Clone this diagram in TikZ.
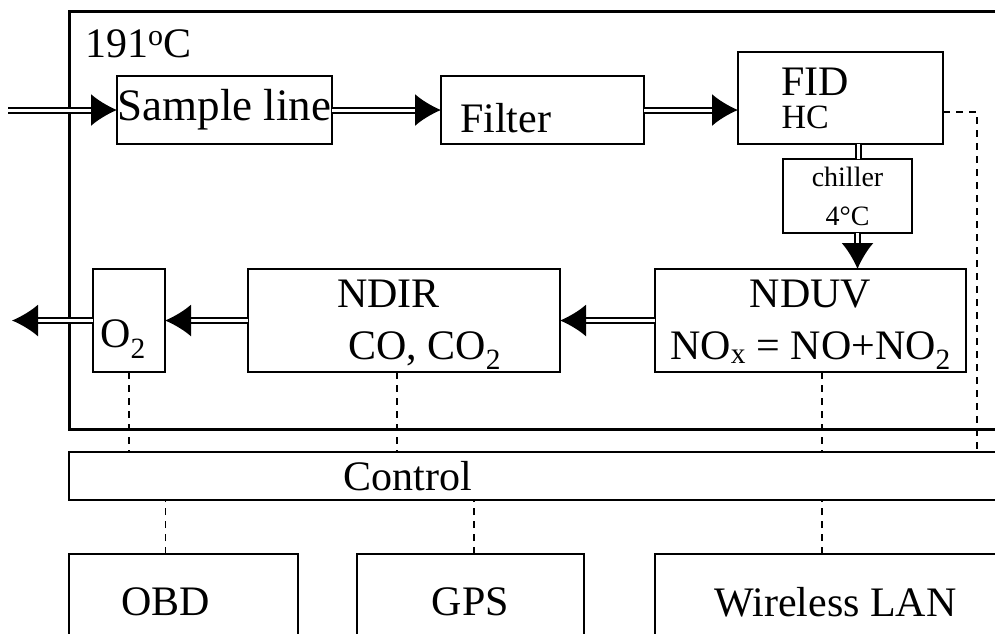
\documentclass[tikz,border=0pt]{standalone}
\usepackage{fontspec}
\setmainfont{Liberation Serif}
\usetikzlibrary{arrows.meta,positioning,calc}

\begin{document}
\begin{tikzpicture}[x=1pt,y=-1pt,
    node distance=50pt and 50pt,
    caja/.style={draw,line width=2pt,inner sep=0pt,outer sep=0pt,align=center,font=\fontsize{42}{52}\selectfont},
    chica/.style={caja,line width=2.6pt,font=\fontsize{28}{39}\selectfont},
    barra/.style={caja,line width=1.5pt},
    marco/.style={draw,line width=3pt},
    flecha/.style={double,double distance=3pt,line width=2pt,-{Latex[length=26pt,width=32pt]}},
    tubo/.style={double,double distance=3pt,line width=2pt},
    guion/.style={line width=1.5pt,dash pattern=on 7pt off 6pt}]
    \useasboundingbox (0,0) rectangle (995,633);
    \clip (0,0) rectangle (995,633);
    \draw[marco] (69,11) rectangle (1016,429);
    \node[anchor=base west,inner sep=0pt,font=\fontsize{42}{48}\selectfont] (temp) at (85,57) {191\raisebox{12pt}{\fontsize{30}{30}\selectfont o}C};
    \node[caja,minimum width=215pt,minimum height=68pt,font=\fontsize{45}{52}\selectfont] (muestra) at (224.5,110) {Sample line};
    \node[caja,minimum width=203pt,minimum height=68pt,text width=165pt,align=left,text height=44pt,text depth=0pt,right=109pt of muestra] (filtro) {Filter};
    \node[caja,minimum width=205pt,minimum height=92pt,text width=118pt,align=left,font=\fontsize{42}{33}\selectfont,right=94pt of filtro.south east,anchor=south west] (fid) {FID\\{\fontsize{34}{33}\selectfont HC}};
    \node[chica,minimum width=129pt,minimum height=74pt,below=15pt of fid,xshift=7pt] (enfriador) {chiller\\4°C};
    \node[caja,minimum width=311pt,minimum height=103pt,text height=77pt,text depth=0pt,below=36pt of enfriador,xshift=-37pt] (nduv) {NDUV\\NO\textsubscript{x} = NO+NO\textsubscript{2}};
    \node[caja,minimum width=312pt,minimum height=103pt,align=left,text height=77pt,text depth=0pt,left=95pt of nduv] (ndir) {\hspace*{30pt}NDIR\\\hspace*{41pt}CO, CO\textsubscript{2}};
    \node[caja,minimum width=72pt,minimum height=103pt,text height=54pt,text depth=0pt,left=83pt of ndir] (o2) {O\textsubscript{2}\hspace*{12pt}};
    \node[barra,minimum width=960pt,minimum height=48pt,anchor=north west] (control) at (69,452) {Control\hspace*{282pt}};
    \node[caja,minimum width=229pt,minimum height=96pt,anchor=north west] (obd) at ([yshift=-54pt]control.south west) {OBD\hspace*{36pt}};
    \node[caja,minimum width=227pt,minimum height=96pt,right=59pt of obd] (gps) {GPS};
    \node[caja,minimum width=361pt,minimum height=96pt,right=71pt of gps] (wlan) {Wireless LAN};
    \coordinate (entrada) at (muestra.west -| 8,0);
    \coordinate (salida) at (o2.west -| 12,0);
    % gas flow
    \draw[flecha] (entrada) -- (muestra);
    \draw[flecha] (muestra) -- (filtro);
    \draw[flecha] (filtro) -- (filtro -| fid.west);
    \draw[tubo] ([xshift=17.5pt]fid.south) -- ([xshift=17.5pt]fid.south |- enfriador.north);
    \draw[flecha] ([xshift=10pt]enfriador.south) -- ([xshift=10pt]enfriador.south |- nduv.north);
    \draw[flecha] (nduv) -- (ndir);
    \draw[flecha] (ndir) -- (o2);
    \draw[flecha] (o2) -- (salida);
    % signals
    \draw[guion] (o2.south) -- (o2.south |- control.north);
    \draw[guion] ([xshift=-7pt]ndir.south) -- ([xshift=-7pt]ndir.south |- control.north);
    \draw[guion] ([xshift=11.5pt]nduv.south) -- ([xshift=11.5pt]nduv.south |- control.north);
    \draw[guion] ([yshift=-14pt]fid.east) -| (977,0 |- control.north);
    \draw[guion] ([xshift=-18pt]obd.north) -- ([xshift=-18pt]obd.north |- control.south);
    \draw[guion] ([xshift=3.5pt]gps.north) -- ([xshift=3.5pt]gps.north |- control.south);
    \draw[guion] ([xshift=-13.5pt]wlan.north) -- ([xshift=-13.5pt]wlan.north |- control.south);
\end{tikzpicture}
\end{document}
